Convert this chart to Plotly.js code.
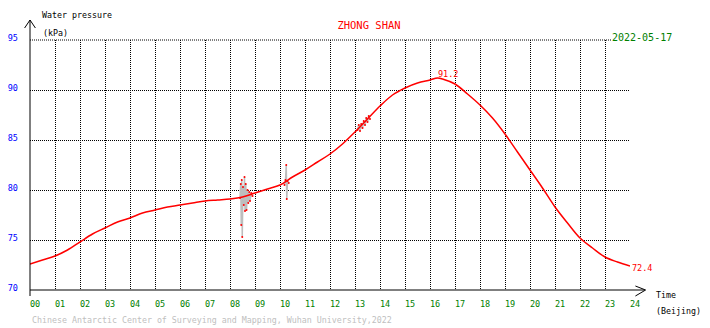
<!DOCTYPE html>
<html>
<head>
<meta charset="utf-8">
<script src="https://cdn.plot.ly/plotly-3.0.1.min.js"></script>
<style>
html,body{margin:0;padding:0;background:#fff;}
#chart{width:710px;height:328px;}
</style>
</head>
<body>
<div id="chart"></div>
<script>
// ---- data (hours, Beijing time; water pressure kPa) ----
const hours = [0,0.5,1,1.5,2,2.5,3,3.5,4,4.5,5,5.5,6,6.5,7,7.5,8,8.5,9,9.5,10,10.5,11,11.5,12,12.5,13,13.5,14,14.5,15,15.5,16,16.3,16.5,17,17.5,18,18.5,19,19.5,20,20.5,21,21.5,22,22.5,23,23.5,24];
const pressure = [72.6,73.0,73.4,74.0,74.8,75.6,76.2,76.8,77.2,77.7,78.0,78.3,78.5,78.7,78.9,79.0,79.1,79.3,79.7,80.1,80.5,81.3,82.0,82.8,83.6,84.6,85.8,87.1,88.4,89.5,90.2,90.7,91.0,91.2,91.1,90.6,89.6,88.5,87.2,85.6,83.8,82.0,80.2,78.3,76.7,75.2,74.2,73.3,72.8,72.4];

const noiseA_h = [8.40,8.43,8.45,8.47,8.49,8.52,8.55,8.58,8.60,8.63,8.66,8.70,8.73,8.77,8.80,8.85,8.90];
const noiseA_v = [79.2,80.6,76.5,81.0,75.3,80.3,78.5,81.3,77.9,80.6,78.0,80.0,78.7,79.8,78.9,79.7,79.4];
const noiseB_h = [10.18,10.22,10.25,10.27,10.30,10.35];
const noiseB_v = [80.5,81.0,82.5,79.1,80.9,80.7];
const noiseC_h = [13.10,13.15,13.20,13.25,13.30,13.35,13.40,13.45,13.50,13.55,13.60];
const noiseC_v = [86.0,86.5,85.9,86.6,86.2,86.9,86.5,87.2,86.8,87.4,87.1];

const xTickVals = [0,1,2,3,4,5,6,7,8,9,10,11,12,13,14,15,16,17,18,19,20,21,22,23,24];
const xTickText = ["00","01","02","03","04","05","06","07","08","09","10","11","12","13","14","15","16","17","18","19","20","21","22","23","24"];
const yTickVals = [70,75,80,85,90,95];
const yTickText = ["70","75","80","85","90","95"];

const stationName = "ZHONG SHAN";
const dateText = "2022-05-17";
const peakLabel = {h:16.3, v:91.2, text:"91.2"};
const endLabel = {h:24, v:72.4, text:"72.4"};

const MONO = "DejaVu Sans Mono, Liberation Mono, monospace";
const DOT = '1px,1px';

const noiseTrace = (xs, ys) => ({
  x: xs, y: ys, type:'scatter', mode:'lines+markers',
  line:{color:'#bdbdbd', width:1.5},
  marker:{color:'#ff0000', size:2},
  hoverinfo:'skip', showlegend:false, cliponaxis:false
});

const traces = [
  noiseTrace(noiseA_h, noiseA_v),
  noiseTrace(noiseB_h, noiseB_v),
  noiseTrace(noiseC_h, noiseC_v),
  {
    x: hours, y: pressure, type:'scatter', mode:'lines',
    line:{color:'#ff0000', width:1.5, shape:'spline', smoothing:1},
    showlegend:false, cliponaxis:false
  }
];

const layout = {
  width:710, height:328,
  margin:{l:30, r:80, t:40, b:38, pad:0},
  paper_bgcolor:'#ffffff', plot_bgcolor:'#ffffff',
  showlegend:false,
  title:{
    text: stationName, xref:'container', yref:'container',
    x: 369/710, xanchor:'center', y: 1-25/328, yanchor:'middle',
    font:{family:MONO, size:10.5, color:'#ff0000'}
  },
  xaxis:{
    range:[0,24], tickvals:xTickVals, ticktext:xTickText,
    showgrid:true, gridcolor:'#000000', gridwidth:1, griddash:DOT,
    zeroline:false, showline:false, ticks:'',
    ticklabelshift:5, ticklabelstandoff:7,
    tickfont:{family:MONO, size:8.5, color:'#008000'},
    fixedrange:true
  },
  yaxis:{
    range:[70,95], tickvals:yTickVals, ticktext:yTickText,
    showgrid:true, gridcolor:'#000000', gridwidth:1, griddash:DOT,
    zeroline:false, showline:false, ticks:'',
    ticklabelshift:-2, ticklabelstandoff:11,
    tickfont:{family:MONO, size:8.5, color:'#0000ff'},
    fixedrange:true
  },
  shapes:[
    // top grid line (range edge)
    {type:'line', xref:'paper', yref:'paper', x0:0, x1:1, y0:1, y1:1, line:{color:'#000', width:1, dash:DOT}, layer:'below'},
    // x axis line with extension
    {type:'line', xref:'paper', yref:'paper', x0:0, x1:1.024, y0:0, y1:0, line:{color:'#000', width:1}},
    // x arrow
    {type:'path', xref:'paper', yref:'paper', path:'M 1.009 0.016 L 1.026 0 L 1.009 -0.024', line:{color:'#000', width:1}},
    // y axis line with extension
    {type:'line', xref:'paper', yref:'paper', x0:0, x1:0, y0:-0.024, y1:1.08, line:{color:'#000', width:1}},
    // y arrow
    {type:'path', xref:'paper', yref:'paper', path:'M -0.009 1.048 L 0 1.08 L 0.009 1.048', line:{color:'#000', width:1}}
  ],
  annotations:[
    {text:'Water pressure', xref:'paper', yref:'paper', x:(40-30)/600, y:(290-15.5)/250, xanchor:'left', yanchor:'middle', showarrow:false, font:{family:MONO, size:8.3, color:'#000'}},
    {text:'(kPa)', xref:'paper', yref:'paper', x:(41-30)/600, y:(290-33.5)/250, xanchor:'left', yanchor:'middle', showarrow:false, font:{family:MONO, size:8.3, color:'#000'}},
    {text:'Time', xref:'paper', yref:'paper', x:(654-30)/600, y:(290-294.5)/250, xanchor:'left', yanchor:'middle', showarrow:false, font:{family:MONO, size:8.3, color:'#000'}},
    {text:'(Beijing)', xref:'paper', yref:'paper', x:(654-30)/600, y:(290-310.5)/250, xanchor:'left', yanchor:'middle', showarrow:false, font:{family:MONO, size:8.3, color:'#000'}},
    {text:dateText, xref:'paper', yref:'paper', x:(611-30)/600, y:(290-37.5)/250, xanchor:'left', yanchor:'middle', showarrow:false, bgcolor:'#ffffff', borderpad:0, font:{family:MONO, size:10, color:'#008000'}},
    {text:'Chinese Antarctic Center of Surveying and Mapping, Wuhan University,2022', xref:'paper', yref:'paper', x:0, y:(290-320)/250, xanchor:'left', yanchor:'middle', showarrow:false, font:{family:MONO, size:8.3, color:'#c0c0c0'}},
    {text:peakLabel.text, xref:'x', yref:'y', x:peakLabel.h, y:peakLabel.v, xanchor:'center', yanchor:'bottom', yshift:-3, xshift:10, showarrow:false, font:{family:MONO, size:8.5, color:'#ff0000'}},
    {text:endLabel.text, xref:'x', yref:'y', x:endLabel.h, y:endLabel.v, xanchor:'left', yanchor:'middle', xshift:0, yshift:-2, showarrow:false, font:{family:MONO, size:8.5, color:'#ff0000'}}
  ]
};

Plotly.newPlot('chart', traces, layout, {staticPlot:true, displayModeBar:false});
</script>
</body>
</html>
